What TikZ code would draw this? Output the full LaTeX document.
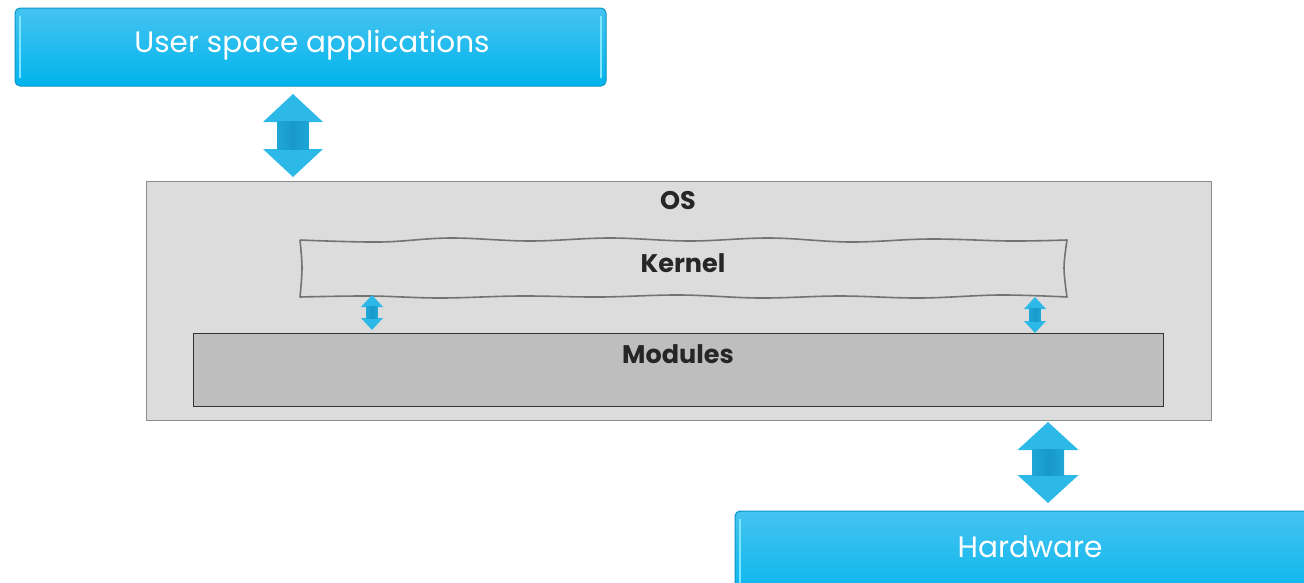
\documentclass[tikz,border=0pt]{standalone}
\usepackage{fontspec}
\setmainfont{Poppins}
\usepackage{xcolor}
\usetikzlibrary{calc}
\definecolor{skytop}{HTML}{45C3F0}
\definecolor{skybot}{HTML}{00B4EC}
\definecolor{skyedge}{HTML}{0A94C6}
\definecolor{skyhi}{HTML}{7FE6FF}
\definecolor{arrowhead}{HTML}{2DB9E8}
\definecolor{arrowshaft}{HTML}{1898CB}
\definecolor{arrowside}{HTML}{1FA6D8}
\definecolor{osgray}{HTML}{DCDCDC}
\definecolor{modgray}{HTML}{BEBEBE}

\tikzset{
  bluebox/.style={rounded corners=5pt, draw=skyedge, line width=1pt,
    top color=skytop, bottom color=skybot},
  bluetext/.style={text=white, font=\fontsize{29.5}{34}\selectfont},
  boldlabel/.style={font=\fontsize{25.5}{30}\selectfont\bfseries, text=black!85},
}

% double block arrow: x, top y, bottom y, head half, shaft half, head length
\newcommand{\blockarrow}[6]{%
  \fill[arrowhead] (#1,#2) -- (#1-#4,#2+#6) -- (#1+#4,#2+#6) -- cycle;
  \fill[arrowhead] (#1,#3) -- (#1-#4,#3-#6) -- (#1+#4,#3-#6) -- cycle;
  \shade[left color=arrowside, right color=arrowside, middle color=arrowshaft]
    (#1-#5,#2+#6-0.5) rectangle (#1+#5,#3-#6+0.5);
}

\begin{document}
\begin{tikzpicture}[x=1pt,y=-1pt]
    \useasboundingbox (0,0) rectangle (1304,582);
    \clip (0,0) rectangle (1304,582);
    % User space box
    \draw[bluebox] (15,8) rectangle (606,86);
    \draw[skyhi, line width=1.5pt] (20,16) -- (20,78);
    \draw[skyhi, line width=1.5pt] (601,16) -- (601,78);
    \node[bluetext] (user) at (312,45) {User space applications};
    % Arrow user <-> OS
    \blockarrow{293}{94}{177}{30}{15.5}{28}
    % OS box
    \draw[fill=osgray, draw=black!45, line width=1pt] (146,181) rectangle (1211,420);
    \node[boldlabel] (os) at (678,201) {OS};
    % Kernel (hand drawn box)
    \draw[black!55, line width=1.6pt, line join=round]
      plot[smooth, tension=0.6] coordinates {(300,240) (380,242) (450,238) (530,241)
        (610,238) (690,241) (770,238) (850,242) (930,239) (1010,241) (1067,240)}
      -- plot[smooth, tension=0.6] coordinates {(1067,240) (1064,268) (1067,297)}
      -- plot[smooth, tension=0.6] coordinates {(1067,297) (1000,295) (920,298)
        (840,296) (760,298) (680,295) (600,297) (520,296) (440,298) (370,296) (300,297)}
      -- plot[smooth, tension=0.6] coordinates {(300,297) (302,268) (300,240)};
    \node[boldlabel] (kernel) at (683,263) {Kernel};
    % small arrows kernel <-> modules
    \blockarrow{372}{295}{330}{11}{5.5}{12}
    \blockarrow{1035}{297}{333}{11}{5.5}{12}
    % Modules box
    \draw[fill=modgray, draw=black!80, line width=1pt] (193,333) rectangle (1163,406);
    \node[boldlabel] (modules) at (678,354) {Modules};
    % Arrow OS <-> hardware
    \blockarrow{1048}{422}{503}{30.5}{16}{28}
    % Hardware box
    \draw[bluebox] (735,511) rectangle (1330,610);
    \draw[skyhi, line width=1.5pt] (740,519) -- (740,590);
    \node[bluetext] (hw) at (1030,547) {Hardware};
\end{tikzpicture}
\end{document}
